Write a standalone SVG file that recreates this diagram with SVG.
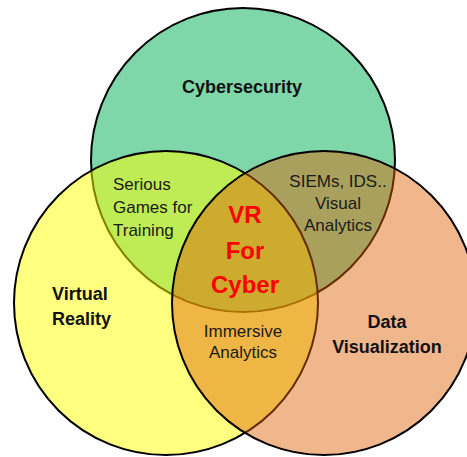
<svg xmlns="http://www.w3.org/2000/svg" width="467" height="457" viewBox="0 0 467 457">
  <style>
    .ring { stroke: #000; stroke-width: 2; }
    .lbl { font-family: "Liberation Sans", Arial, sans-serif; font-size: 17px; fill: #1a1a1a; }
    .big { font-family: "Liberation Sans", Arial, sans-serif; font-size: 18px; font-weight: bold; fill: #111; }
    .core { font-family: "Liberation Sans", Arial, sans-serif; font-size: 24px; font-weight: bold; fill: #ff0000; }
  </style>
  <rect width="467" height="457" fill="#ffffff"/>
  <g id="cybersecurity">
    <circle class="ring" cx="243" cy="160" r="152" fill="#7fd7a9"/>
    <text class="big" x="242" y="93" text-anchor="middle">Cybersecurity</text>
  </g>
  <g id="virtual-reality">
    <circle class="ring" cx="166" cy="303" r="152" fill="#ffff00" fill-opacity="0.5"/>
  </g>
  <g id="data-visualization">
    <circle class="ring" cx="324" cy="303" r="152" fill="#de5d00" fill-opacity="0.45"/>
  </g>
  <g id="labels">
    <text class="big" x="52" y="300">Virtual</text>
    <text class="big" x="52" y="325">Reality</text>
    <text class="big" x="387" y="328" text-anchor="middle">Data</text>
    <text class="big" x="387" y="353" text-anchor="middle">Visualization</text>
  </g>
  <g id="serious-games">
    <text class="lbl" x="113" y="190">Serious</text>
    <text class="lbl" x="113" y="213">Games for</text>
    <text class="lbl" x="113" y="236">Training</text>
  </g>
  <g id="siems-ids">
    <text class="lbl" x="338" y="187" text-anchor="middle">SIEMs, IDS..</text>
    <text class="lbl" x="338" y="209" text-anchor="middle">Visual</text>
    <text class="lbl" x="338" y="231" text-anchor="middle">Analytics</text>
  </g>
  <g id="immersive-analytics">
    <text class="lbl" x="243" y="337" text-anchor="middle">Immersive</text>
    <text class="lbl" x="243" y="358" text-anchor="middle">Analytics</text>
  </g>
  <g id="vr-for-cyber">
    <text class="core" x="245" y="223" text-anchor="middle">VR</text>
    <text class="core" x="245" y="259" text-anchor="middle">For</text>
    <text class="core" x="245" y="293" text-anchor="middle">Cyber</text>
  </g>
</svg>
